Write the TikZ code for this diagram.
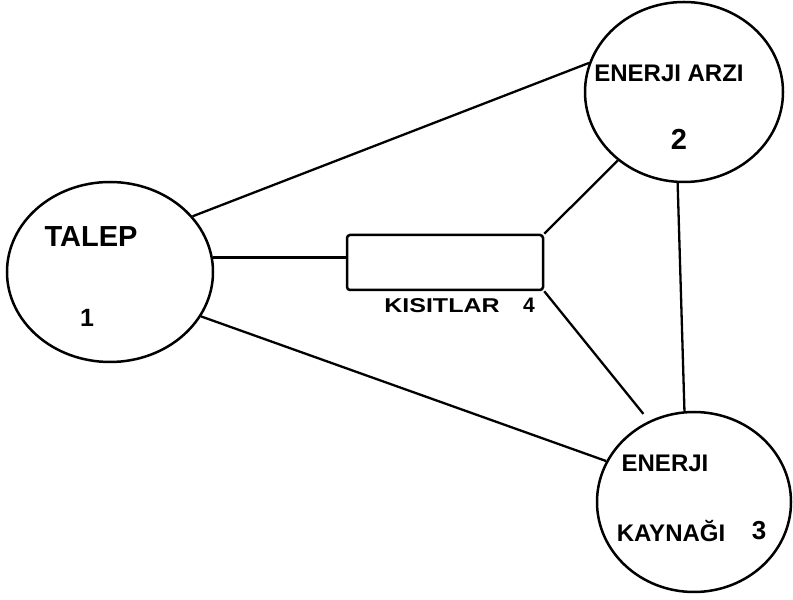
\documentclass[tikz,border=0pt]{standalone}
\usepackage{fontspec}
\setmainfont{Liberation Sans}
\usetikzlibrary{shapes.geometric,calc}
\begin{document}
\begin{tikzpicture}[x=1pt,y=1pt,
  circ/.style={draw, ellipse, inner sep=0pt, line width=2.5pt},
  box/.style={draw, rectangle, rounded corners=3pt, inner sep=0pt, line width=2.5pt},
  conn/.style={line width=2.3pt},
  lbl/.style={inner sep=0pt, anchor=base, font=\bfseries}]
\useasboundingbox (0,0) rectangle (793,600);
% circles
\node[circ, minimum width=206pt, minimum height=180pt] (c1) at (110,328) {};
\node[circ, minimum width=198pt, minimum height=180pt] (c2) at (684,508) {};
\node[circ, minimum width=194pt, minimum height=180pt] (c3) at (694,98) {};
\node[box, minimum width=196pt, minimum height=55pt] (r) at (445,337.5) {};
% labels
\node[lbl] (t1) at (91,353) {\fontsize{29}{30}\selectfont TALEP};
\node[lbl] (n1) at (87,273) {\fontsize{25}{26}\selectfont 1};
\node[lbl] (t2) at (669,518) {\fontsize{24}{26}\selectfont ENERJI ARZI};
\node[lbl] (n2) at (679,450) {\fontsize{29}{30}\selectfont 2};
\node[lbl] (t3a) at (665,128) {\fontsize{24}{26}\selectfont ENERJI};
\node[lbl] (t3b) at (671,58) {\fontsize{24}{26}\selectfont KAYNAĞI};
\node[lbl] (n3) at (759,60) {\fontsize{26}{27}\selectfont 3};
\node[lbl] (t4) at (442,287) {\fontsize{20}{22}\selectfont\scalebox{1.25}[1]{KISITLAR}};
\node[lbl] (n4) at (529,287) {\fontsize{21}{22}\selectfont 4};
% connectors
\draw[conn] (c1.34.8) -- (c2.163.2);
\draw[conn] (c1.8) -- (c1.8 -| r.west);
\draw[conn] (c1.-26.3) -- (c3.155.6);
\draw[conn] (r.north east) -- (c2.226.7);
\draw[conn, shorten >=9pt] (r.south east) -- (c3.119);
\draw[conn] (c2.266.2) -- (c3.96.4);
\end{tikzpicture}
\end{document}
